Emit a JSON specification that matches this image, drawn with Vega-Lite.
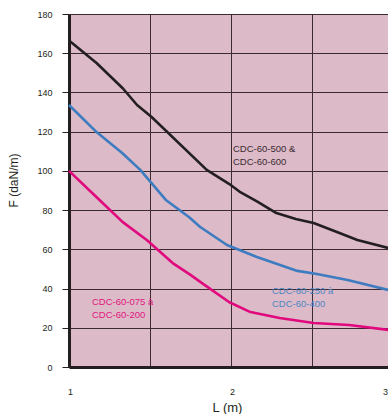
{
  "$schema": "https://vega.github.io/schema/vega-lite/v6.json",
  "width": 319,
  "height": 353,
  "autosize": {"type": "none"},
  "padding": {"left": 69, "top": 14, "right": 0, "bottom": 47},
  "background": "#ffffff",
  "config": {
    "font": "Liberation Sans",
    "view": {"fill": "#dcbac7", "stroke": null}
  },
  "datasets": {
    "curves": [
      {"L": 1.0, "F": 166.5, "s": "a"},
      {"L": 1.17, "F": 155, "s": "a"},
      {"L": 1.333, "F": 142, "s": "a"},
      {"L": 1.42, "F": 133.6, "s": "a"},
      {"L": 1.51, "F": 127.5, "s": "a"},
      {"L": 1.85, "F": 100.5, "s": "a"},
      {"L": 1.99, "F": 93.3, "s": "a"},
      {"L": 2.06, "F": 89, "s": "a"},
      {"L": 2.16, "F": 84.5, "s": "a"},
      {"L": 2.28, "F": 78.5, "s": "a"},
      {"L": 2.40, "F": 75.5, "s": "a"},
      {"L": 2.51, "F": 73.4, "s": "a"},
      {"L": 2.65, "F": 69, "s": "a"},
      {"L": 2.78, "F": 64.8, "s": "a"},
      {"L": 2.97, "F": 60.7, "s": "a"},
      {"L": 1.0, "F": 133.6, "s": "b"},
      {"L": 1.17, "F": 119.8, "s": "b"},
      {"L": 1.33, "F": 109, "s": "b"},
      {"L": 1.44, "F": 100.5, "s": "b"},
      {"L": 1.60, "F": 85, "s": "b"},
      {"L": 1.74, "F": 76.5, "s": "b"},
      {"L": 1.81, "F": 71.4, "s": "b"},
      {"L": 1.975, "F": 62.2, "s": "b"},
      {"L": 2.16, "F": 56.1, "s": "b"},
      {"L": 2.41, "F": 49, "s": "b"},
      {"L": 2.53, "F": 47.4, "s": "b"},
      {"L": 2.72, "F": 44.4, "s": "b"},
      {"L": 2.97, "F": 39.3, "s": "b"},
      {"L": 1.0, "F": 100, "s": "c"},
      {"L": 1.19, "F": 85, "s": "c"},
      {"L": 1.33, "F": 74, "s": "c"},
      {"L": 1.48, "F": 64.8, "s": "c"},
      {"L": 1.64, "F": 53, "s": "c"},
      {"L": 1.75, "F": 47, "s": "c"},
      {"L": 1.81, "F": 43.4, "s": "c"},
      {"L": 1.99, "F": 33, "s": "c"},
      {"L": 2.12, "F": 28, "s": "c"},
      {"L": 2.30, "F": 25, "s": "c"},
      {"L": 2.51, "F": 22.4, "s": "c"},
      {"L": 2.73, "F": 21.4, "s": "c"},
      {"L": 2.97, "F": 18.9, "s": "c"}
    ],
    "labels": [
      {"L": 2.012, "F": 111.2, "s": "a", "t": "CDC-60-500 &\nCDC-60-600"},
      {"L": 2.253, "F": 38.8, "s": "b", "t": "CDC-60-250 à\nCDC-60-400"},
      {"L": 1.142, "F": 33.1, "s": "c", "t": "CDC-60-075 à\nCDC-60-200"}
    ]
  },
  "encoding": {
    "x": {
      "field": "L", "type": "quantitative",
      "scale": {"domain": [1, 3], "range": [0, 324], "zero": false, "nice": false},
      "axis": {
        "values": [1, 1.5, 2, 2.5, 3],
        "labelExpr": "datum.value % 1 == 0 ? format(datum.value, 'd') : ''",
        "labelOverlap": false, "labelFlush": false,
        "labelFontSize": 9, "labelColor": "#231f20",
        "labelPadding": 20, "labelBaseline": "top",
        "labelOffset": {"condition": {"test": "datum.value == 3", "value": -8}, "value": 1},
        "ticks": false,
        "domainColor": "#231f20", "domainWidth": 3,
        "grid": true, "gridColor": "#3a2a32", "gridWidth": 1, "gridOpacity": 1,
        "title": "L (m)", "titleFontSize": 13, "titleFontWeight": "normal", "titleColor": "#231f20",
        "titleX": 158, "titleY": 40, "titleBaseline": "middle", "titleAlign": "center"
      }
    },
    "y": {
      "field": "F", "type": "quantitative",
      "scale": {"domain": [0, 180], "nice": false},
      "axis": {
        "values": [0, 20, 40, 60, 80, 100, 120, 140, 160, 180],
        "labelOverlap": false, "labelFlush": false,
        "labelFontSize": 9, "labelColor": "#231f20", "labelPadding": 10,
        "tickSize": 7, "tickColor": "#231f20", "tickWidth": 1,
        "domainColor": "#231f20", "domainWidth": 3,
        "grid": true, "gridColor": "#3a2a32", "gridWidth": 1, "gridOpacity": 1,
        "title": "F (daN/m)", "titleFontSize": 12, "titleFontWeight": "normal", "titleColor": "#231f20",
        "titleAngle": -90, "titleX": -56, "titleY": 166, "titleBaseline": "middle", "titleAlign": "center"
      }
    }
  },
  "layer": [
    {
      "data": {"name": "curves"},
      "mark": {"type": "line", "strokeWidth": 2.6, "interpolate": "linear", "strokeJoin": "round"},
      "encoding": {
        "color": {
          "field": "s", "type": "nominal",
          "scale": {"domain": ["a", "b", "c"], "range": ["#231f20", "#3d7cc0", "#e0097d"]},
          "legend": null
        }
      }
    },
    {
      "data": {"name": "labels"},
      "mark": {"type": "text", "align": "left", "baseline": "middle", "fontSize": 9.5, "lineBreak": "\n", "lineHeight": 13},
      "encoding": {
        "text": {"field": "t"},
        "color": {"field": "s", "type": "nominal", "scale": {"domain": ["a", "b", "c"], "range": ["#3a2a32", "#4d86c4", "#e0167f"]}, "legend": null}
      }
    }
  ],
  "resolve": {"scale": {"color": "independent"}}
}
